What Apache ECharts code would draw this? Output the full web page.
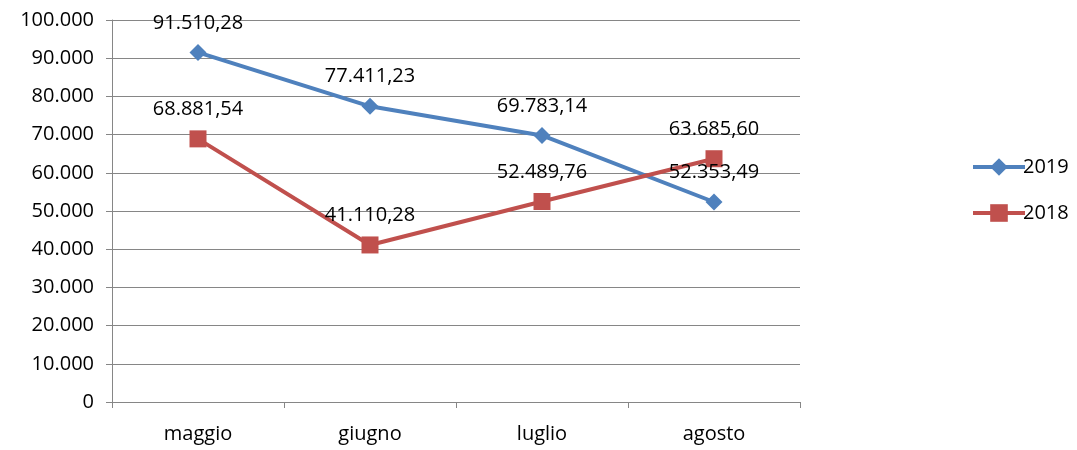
<!DOCTYPE html>
<html>
<head>
<meta charset="utf-8">
<script src="https://cdn.jsdelivr.net/npm/echarts@6/dist/echarts.min.js"></script>
<style>
  html, body { margin: 0; padding: 0; background: #fff; }
  #chart { width: 1077px; height: 450px; }
</style>
</head>
<body>
<div id="chart"></div>
<script>
  var months = ['maggio', 'giugno', 'luglio', 'agosto'];
  var values2019 = [91510.28, 77411.23, 69783.14, 52353.49];
  var values2018 = [68881.54, 41110.28, 52489.76, 63685.60];

  // formato italiano: punto per le migliaia, virgola per i decimali
  function itNum(v, dec) {
    var parts = v.toFixed(dec).split('.');
    var intPart = parts[0].replace(/\B(?=(\d{3})+(?!\d))/g, '.');
    return parts.length > 1 ? intPart + ',' + parts[1] : intPart;
  }

  var font = 'Open Sans';
  var fs = 20;
  var chart = echarts.init(document.getElementById('chart'));
  chart.setOption({
    animation: false,
    grid: { left: 112, right: 277, top: 20, bottom: 48 },
    legend: {
      orient: 'vertical',
      left: 966,
      top: 152,
      itemWidth: 52,
      itemHeight: 22,
      itemGap: 26,
      lineStyle: { width: 4 },
      textStyle: { fontFamily: font, fontSize: fs, color: '#000', padding: [0, 0, 0, -7] },
      data: ['2019', '2018']
    },
    xAxis: {
      type: 'category',
      data: months,
      boundaryGap: true,
      axisLine: { lineStyle: { color: '#868686', width: 1 } },
      axisTick: { show: true, length: 6, lineStyle: { color: '#868686' } },
      axisLabel: { fontFamily: font, fontSize: fs, color: '#000', margin: 22 }
    },
    yAxis: {
      type: 'value',
      min: 0,
      max: 100000,
      interval: 10000,
      axisLine: { show: true, lineStyle: { color: '#868686' } },
      axisTick: { show: true, length: 6, lineStyle: { color: '#868686' } },
      splitLine: { lineStyle: { color: '#868686', width: 1 } },
      axisLabel: {
        fontFamily: font, fontSize: fs, color: '#000', margin: 18,
        formatter: function (v) { return itNum(v, 0); }
      }
    },
    series: [
      {
        name: '2019',
        type: 'line',
        data: values2019,
        symbol: 'diamond',
        symbolSize: 17,
        itemStyle: { color: '#4F81BD' },
        lineStyle: { color: '#4F81BD', width: 4 },
        label: {
          show: true, position: 'top', distance: 11,
          fontFamily: font, fontSize: fs, color: '#000',
          formatter: function (p) { return itNum(p.value, 2); }
        }
      },
      {
        name: '2018',
        type: 'line',
        data: values2018,
        symbol: 'rect',
        symbolSize: 17,
        itemStyle: { color: '#C0504D' },
        lineStyle: { color: '#C0504D', width: 4 },
        label: {
          show: true, position: 'top', distance: 11,
          fontFamily: font, fontSize: fs, color: '#000',
          formatter: function (p) { return itNum(p.value, 2); }
        }
      }
    ]
  });
</script>
</body>
</html>
